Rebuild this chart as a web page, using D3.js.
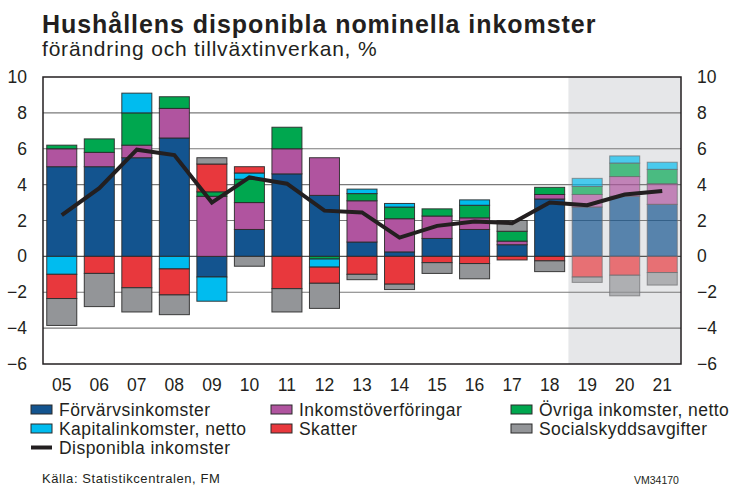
<!DOCTYPE html>
<html>
<head>
<meta charset="utf-8">
<script src="https://cdn.jsdelivr.net/npm/d3@7"></script>
<style>
  body { margin: 0; background: #fff; }
  svg { display: block; font-family: Arial, "Liberation Sans", sans-serif; }
</style>
</head>
<body>
<svg id="chart" width="732" height="486"></svg>
<script>
const years = ["05","06","07","08","09","10","11","12","13","14","15","16","17","18","19","20","21"];
const forecastYears = ["19","20","21"];

const forvarv   = [5.0, 5.0, 5.5, 6.6, -1.15, 1.5, 4.6, 3.4, 0.8, 0.25, 1.0, 1.5, 0.65, 3.2, 2.75, 3.35, 2.9];
const inkomstov = [1.0, 0.8, 0.7, 1.65, 3.35, 1.5, 1.4, 2.1, 2.3, 1.85, 1.25, 0.65, 0.2, 0.25, 0.7, 1.1, 1.15];
const ovriga    = [0.2, 0.75, 1.8, 0.65, 0.25, 1.3, 1.2, -0.15, 0.4, 0.65, 0.4, 0.7, 0.55, 0.4, 0.45, 0.75, 0.8];
const kapital   = [-1.0, 0, 1.1, -0.7, -1.35, 0.35, 0, -0.45, 0.25, 0.2, 0, 0.3, 0, 0, 0.45, 0.4, 0.4];
const skatter   = [-1.35, -0.95, -1.75, -1.45, 1.55, 0.35, -1.8, -0.9, -1.0, -1.55, -0.35, -0.4, -0.2, -0.25, -1.15, -1.05, -0.9];
const social    = [-1.5, -1.85, -1.35, -1.1, 0.35, -0.55, -1.3, -1.4, -0.3, -0.3, -0.6, -0.85, 0.6, -0.6, -0.3, -1.15, -0.7];
const disponibla = [2.3, 3.8, 5.95, 5.65, 3.0, 4.4, 4.05, 2.55, 2.45, 1.05, 1.7, 1.95, 1.85, 3.0, 2.85, 3.45, 3.65];

const yTicks = [10, 8, 6, 4, 2, 0, -2, -4, -6];

const series = [
  { key: "forvarv",   label: "Förvärvsinkomster",        values: forvarv,   color: "#13548f" },
  { key: "inkomstov", label: "Inkomstöverföringar",      values: inkomstov, color: "#b0549f" },
  { key: "ovriga",    label: "Övriga inkomster, netto",  values: ovriga,    color: "#00a74f" },
  { key: "kapital",   label: "Kapitalinkomster, netto",  values: kapital,   color: "#00bcef" },
  { key: "skatter",   label: "Skatter",                  values: skatter,   color: "#e8383d" },
  { key: "social",    label: "Socialskyddsavgifter",     values: social,    color: "#939598" }
];

const margin = { top: 77, right: 51, bottom: 122, left: 43 };
const W = 732, H = 486;
const width = W - margin.left - margin.right;
const height = H - margin.top - margin.bottom;
const ink = "#231f20";

const svg = d3.select("#chart");

// titles
svg.append("text").attr("x", 42).attr("y", 33)
  .attr("font-size", "25px").attr("font-weight", "bold").attr("fill", ink)
  .attr("letter-spacing", "0.95px")
  .text("Hushållens disponibla nominella inkomster");
svg.append("text").attr("x", 42).attr("y", 56)
  .attr("font-size", "21px").attr("fill", ink)
  .attr("letter-spacing", "0.8px")
  .text("förändring och tillväxtinverkan, %");

const g = svg.append("g").attr("transform", `translate(${margin.left},${margin.top})`);

const x = d3.scaleBand().domain(years).range([0, width]).paddingInner(0.2).paddingOuter(0.1);
const y = d3.scaleLinear().domain([-6, 10]).range([height, 0]);

// forecast shading
const fx0 = x.step() * years.indexOf(forecastYears[0]);
g.append("rect")
  .attr("x", fx0).attr("y", 0)
  .attr("width", width - fx0).attr("height", height)
  .attr("fill", "#e6e7e9");

// gridlines
g.selectAll("line.grid")
  .data(yTicks.filter(d => d > -6 && d < 10))
  .enter().append("line")
  .attr("class", "grid")
  .attr("x1", 0).attr("x2", width)
  .attr("y1", d => y(d)).attr("y2", d => y(d))
  .attr("stroke", d => d === 0 ? "#555" : "#7a7a7a")
  .attr("stroke-width", 1.2);

// stacked bars
const table = years.map((yr, i) => {
  const row = { year: yr };
  series.forEach(s => { row[s.key] = s.values[i]; });
  return row;
});

const stack = d3.stack()
  .keys(series.map(s => s.key))
  .offset(d3.stackOffsetDiverging);
const stacked = stack(table);

stacked.forEach((layer, li) => {
  g.append("g")
    .selectAll("rect")
    .data(layer.filter(d => d[1] !== d[0]))
    .enter().append("rect")
    .attr("x", d => x(d.data.year))
    .attr("width", x.bandwidth())
    .attr("y", d => y(Math.max(d[0], d[1])))
    .attr("height", d => Math.abs(y(d[0]) - y(d[1])))
    .attr("fill", series[li].color)
    .attr("fill-opacity", d => forecastYears.includes(d.data.year) ? 0.68 : 1)
    .attr("stroke", d => forecastYears.includes(d.data.year) ? "#6d6e71" : "#2a2a2a")
    .attr("stroke-opacity", d => forecastYears.includes(d.data.year) ? 0.7 : 0.9)
    .attr("stroke-width", 1);
});

// line
const line = d3.line()
  .x((d, i) => x(years[i]) + x.bandwidth() / 2)
  .y(d => y(d));

g.append("path")
  .datum(disponibla)
  .attr("fill", "none")
  .attr("stroke", ink)
  .attr("stroke-width", 4)
  .attr("stroke-linejoin", "miter")
  .attr("d", line);

// plot border
g.append("rect")
  .attr("x", 0).attr("y", 0).attr("width", width).attr("height", height)
  .attr("fill", "none").attr("stroke", ink).attr("stroke-width", 1.5);

// axes
const styleTicks = sel => sel.selectAll("text")
  .attr("font-size", "17.5px").attr("fill", ink)
  .attr("font-family", "Arial, 'Liberation Sans', sans-serif");

const yLeft = g.append("g")
  .call(d3.axisLeft(y).tickValues(yTicks).tickSize(0).tickPadding(16));
yLeft.select(".domain").remove();
styleTicks(yLeft);

const yRight = g.append("g")
  .attr("transform", `translate(${width},0)`)
  .call(d3.axisRight(y).tickValues(yTicks).tickSize(0).tickPadding(16));
yRight.select(".domain").remove();
styleTicks(yRight);

const xAxis = g.append("g")
  .attr("transform", `translate(0,${height})`)
  .call(d3.axisBottom(x).tickSize(0).tickPadding(15));
xAxis.select(".domain").remove();
styleTicks(xAxis);

// legend
const legendItems = [
  { s: series[0], col: 0, row: 0 },
  { s: series[1], col: 1, row: 0 },
  { s: series[2], col: 2, row: 0 },
  { s: series[3], col: 0, row: 1 },
  { s: series[4], col: 1, row: 1 },
  { s: series[5], col: 2, row: 1 }
];
const colX = [31, 271, 511];
const rowY = [409.5, 428.5, 447.5];

const legend = svg.append("g");
legendItems.forEach(it => {
  legend.append("rect")
    .attr("x", colX[it.col]).attr("y", rowY[it.row] - 4.5)
    .attr("width", 21).attr("height", 9)
    .attr("fill", it.s.color).attr("stroke", "#2a2a2a").attr("stroke-width", 1);
  legend.append("text")
    .attr("x", colX[it.col] + 28).attr("y", rowY[it.row] + 6)
    .attr("font-size", "17.5px").attr("fill", ink)
    .attr("letter-spacing", "0.45px")
    .text(it.s.label);
});
legend.append("line")
  .attr("x1", 31).attr("x2", 52).attr("y1", rowY[2]).attr("y2", rowY[2])
  .attr("stroke", ink).attr("stroke-width", 4);
legend.append("text")
  .attr("x", 59).attr("y", rowY[2] + 6)
  .attr("font-size", "17.5px").attr("fill", ink)
  .attr("letter-spacing", "0.45px")
  .text("Disponibla inkomster");

// footer
svg.append("text").attr("x", 42).attr("y", 483)
  .attr("font-size", "13px").attr("fill", ink)
  .attr("letter-spacing", "0.6px")
  .text("Källa: Statistikcentralen, FM");
svg.append("text").attr("x", 634).attr("y", 484)
  .attr("font-size", "10.5px").attr("fill", ink)
  .text("VM34170");
</script>
</body>
</html>
